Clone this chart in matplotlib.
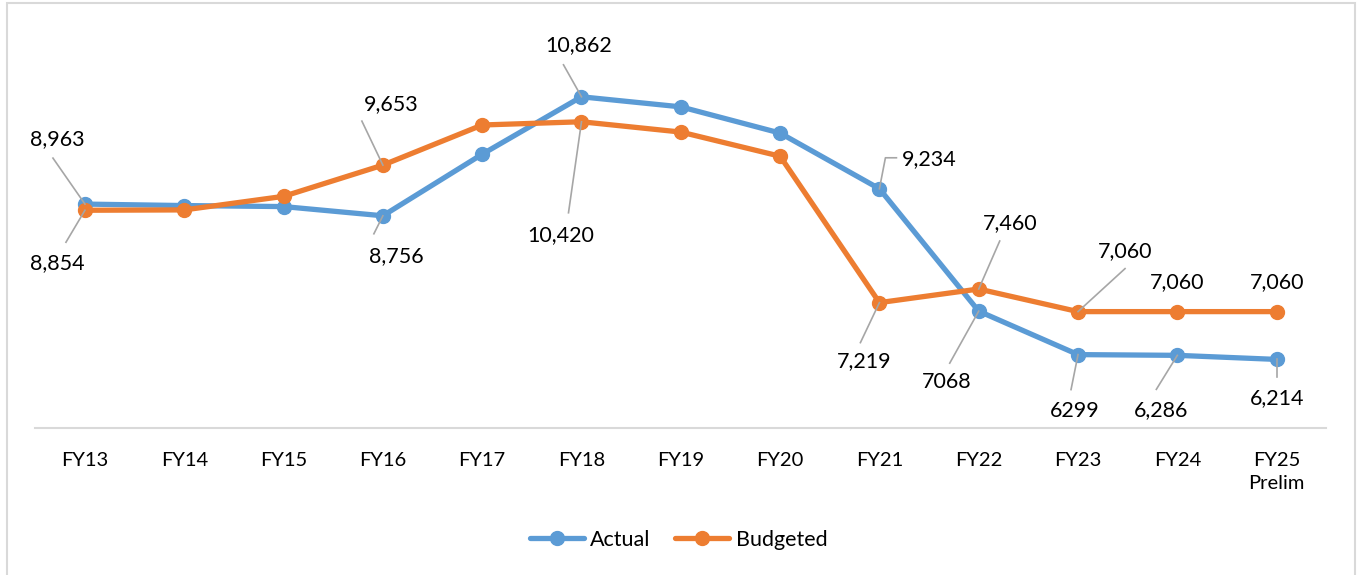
import matplotlib.pyplot as plt
from matplotlib.patches import Rectangle

plt.rcParams['font.family'] = ['Lato', 'DejaVu Sans']

years = ['FY13', 'FY14', 'FY15', 'FY16', 'FY17', 'FY18', 'FY19',
         'FY20', 'FY21', 'FY22', 'FY23', 'FY24', 'FY25\nPrelim']
actual = [8963, 8937, 8919, 8756, 9846, 10862, 10684, 10220, 9234, 7068, 6299, 6286, 6214]
budgeted = [8854, 8860, 9100, 9653, 10363, 10420, 10238, 9810, 7219, 7460, 7060, 7060, 7060]

# data labels: (index, text, text offset, leader line points) offsets in pixels from the point
actual_labels = [(0, '8,963', (-28, 65), [(-32, 46)]),
                 (3, '8,756', (13, -40), [(-9, -18)]),
                 (5, '10,862', (-3, 52), [(-18, 32)]),
                 (8, '9,234', (50, 30), [(17, 31), (6, 31)]),
                 (9, '7068', (-32, -71), [(-29, -52)]),
                 (10, '6299', (-3, -56), [(-7, -35)]),
                 (11, '6,286', (-16, -55), [(-21, -34)]),
                 (12, '6,214', (0, -39), [(0, -18)])]
budget_labels = [(0, '8,854', (-28, -53), [(-19, -32)]),
                 (3, '9,653', (8, 61), [(-21, 44)]),
                 (5, '10,420', (-21, -113), [(-13, -91)]),
                 (8, '7,219', (-15, -58), [(-19, -40)]),
                 (9, '7,460', (31, 66), [(21, 48)]),
                 (10, '7,060', (47, 61), [(47, 43)]),
                 (11, '7,060', (0, 30), []),
                 (12, '7,060', (0, 30), [])]

blue = '#5B9BD5'
orange = '#ED7D31'
lead = '#A6A6A6'

fig = plt.figure(figsize=(13.57, 5.75), dpi=100)
ax = fig.add_axes([35.3 / 1357, 147 / 575, 1291 / 1357, 339 / 575])

x = list(range(len(years)))
ax.plot(x, actual, color=blue, lw=3.8, marker='o', ms=10, label='Actual',
        solid_capstyle='round', zorder=3, clip_on=False)
ax.plot(x, budgeted, color=orange, lw=3.8, marker='o', ms=10, label='Budgeted',
        solid_capstyle='round', zorder=4, clip_on=False)

ax.set_xlim(-0.5, len(years) - 0.5)
ax.set_ylim(5000, 11000)
ax.set_yticks([])
ax.set_xticks(x)
ax.set_xticklabels(years, fontsize=14.5, linespacing=1.45)
ax.tick_params(axis='x', length=0, pad=17)
for s in ['top', 'left', 'right']:
    ax.spines[s].set_visible(False)
ax.spines['bottom'].set_color('#D9D9D9')
ax.spines['bottom'].set_linewidth(1.5)

for vals, labels in [(actual, actual_labels), (budgeted, budget_labels)]:
    for i, txt, (dx, dy), line in labels:
        ax.annotate(txt, (i, vals[i]), xytext=(dx, dy), textcoords='offset pixels',
                    ha='center', va='center', fontsize=15.5, color='#000000',
                    annotation_clip=False, zorder=5)


def leader(vals, labels):
    # grey leader line from its start through any elbow to the marker
    for i, txt, off, line in labels:
        if not line:
            continue
        px, py = ax.transData.transform((i, vals[i]))
        pts = [(px + dx, py + dy) for dx, dy in line] + [(px, py)]
        fig.add_artist(plt.Line2D([p[0] for p in pts], [p[1] for p in pts],
                                  color=lead, lw=1.2, transform=None, zorder=2))


fig.canvas.draw()
leader(actual, actual_labels)
leader(budgeted, budget_labels)

fig.legend(loc='center', bbox_to_anchor=(0.5, 1 - 540 / 575), ncol=2, frameon=False,
           fontsize=15.5, handlelength=2.5, handletextpad=0.3, columnspacing=1.15)

# chart area border
fig.patches.append(Rectangle((7 / 1357, -0.01), 1348 / 1357, 1 - 3 / 575 + 0.01,
                             transform=fig.transFigure, fill=False,
                             edgecolor='#D9D9D9', lw=1.5))

fig.savefig('out.png', dpi=100)
